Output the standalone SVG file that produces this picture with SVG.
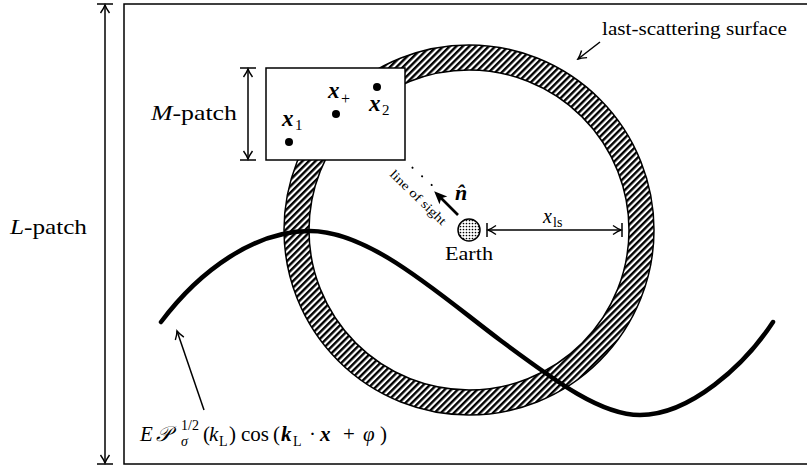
<svg xmlns="http://www.w3.org/2000/svg" width="807" height="470" viewBox="0 0 807 470">
<style>
text{font-family:"Liberation Serif","Times New Roman",serif;fill:#000}
.it{font-style:italic}
.bi{font-style:italic;font-weight:bold}
.up{font-style:normal;font-weight:normal}
.ln{stroke:#000;fill:none;stroke-width:1.5}
.dim{stroke:#000;fill:none;stroke-width:1.5}
</style>
<defs>
<pattern id="hatch" patternUnits="userSpaceOnUse" width="4.6" height="4.6" patternTransform="rotate(45)">
<rect width="4.6" height="4.6" fill="#fff"/>
<rect width="2.4" height="4.6" fill="#000"/>
</pattern>
<pattern id="dots" patternUnits="userSpaceOnUse" width="3" height="3">
<rect width="3" height="3" fill="#fff"/>
<circle cx="1.5" cy="1.5" r="0.85" fill="#000"/>
</pattern>
<marker id="v" viewBox="-10 -6 12 12" refX="0" refY="0" markerWidth="12" markerHeight="12" markerUnits="userSpaceOnUse" orient="auto-start-reverse">
<path d="M-8,-4.5 Q-3,-1 0,0 Q-3,1 -8,4.5" fill="none" stroke="#000" stroke-width="1.4"/>
</marker>
<marker id="solid" viewBox="-15 -7 17 14" refX="-4" refY="0" markerWidth="17" markerHeight="14" markerUnits="userSpaceOnUse" orient="auto">
<path d="M-13,-5.5 L0,0 L-13,5.5 L-10,0 Z" fill="#000"/>
</marker>
</defs>

<g id="L-patch">
<rect x="124" y="4" width="690" height="460" class="ln"/>
</g>

<g id="ring">
<path d="M284,230 a185,185 0 1,0 370,0 a185,185 0 1,0 -370,0 Z M309,230 a160,160 0 1,0 320,0 a160,160 0 1,0 -320,0 Z" fill="url(#hatch)" fill-rule="evenodd" stroke="#000" stroke-width="1.5"/>
</g>

<g id="M-patch">
<rect x="266" y="68" width="139" height="92" fill="#fff" stroke="#000" stroke-width="1.5"/>
<circle cx="289" cy="142" r="4"/>
<circle cx="336" cy="114" r="4"/>
<circle cx="377" cy="87" r="4"/>
<text x="282" y="126" class="bi" font-size="23">x<tspan x="295" y="130" font-size="15" class="up">1</tspan></text>
<text x="328" y="98" class="bi" font-size="23">x<tspan x="341" y="104" font-size="16" class="up">+</tspan></text>
<text x="369" y="111" class="bi" font-size="23">x<tspan x="382" y="115" font-size="15" class="up">2</tspan></text>
</g>

<g id="earth">
<circle cx="469" cy="230" r="11" fill="url(#dots)" stroke="#000" stroke-width="1.5"/>
<text x="445" y="260" font-size="19" textLength="48" lengthAdjust="spacingAndGlyphs">Earth</text>
</g>

<g id="wave">
<path d="M161,322 C200,270 255,231 310,231 C370,231 440,295 500,340 C554,380 600,415 640,415 C690,415 745,365 773,322" fill="none" stroke="#000" stroke-width="4.5" stroke-linecap="round"/>
</g>

<g id="connectors">
<line x1="105" y1="5" x2="105" y2="463" class="dim" marker-start="url(#v)" marker-end="url(#v)"/>
<line x1="97" y1="4" x2="113" y2="4" class="dim"/>
<line x1="97" y1="464" x2="113" y2="464" class="dim"/>
<line x1="248" y1="69" x2="248" y2="159" class="dim" marker-start="url(#v)" marker-end="url(#v)"/>
<line x1="240" y1="68" x2="256" y2="68" class="dim"/>
<line x1="240" y1="160" x2="256" y2="160" class="dim"/>
<line x1="488" y1="230" x2="621" y2="230" class="dim" marker-start="url(#v)" marker-end="url(#v)"/>
<line x1="487" y1="223" x2="487" y2="237" class="dim"/>
<line x1="622" y1="223" x2="622" y2="237" class="dim"/>
<line x1="600" y1="42" x2="578" y2="59" class="dim" marker-end="url(#v)"/>
<line x1="204" y1="410" x2="177" y2="331" class="dim" marker-end="url(#v)"/>
<line x1="458" y1="215" x2="437" y2="194" stroke="#000" stroke-width="2.6" marker-end="url(#solid)"/>
<line x1="431.7" y1="185" x2="404" y2="160" stroke="#000" stroke-width="2" stroke-linecap="round" stroke-dasharray="0.1 12.8"/>
</g>

<g id="labels">
<text x="10" y="234" font-size="21" textLength="77" lengthAdjust="spacingAndGlyphs"><tspan class="it">L</tspan>-patch</text>
<text x="151" y="120" font-size="21" textLength="86" lengthAdjust="spacingAndGlyphs"><tspan class="it">M</tspan>-patch</text>
<text x="602" y="35" font-size="18" textLength="185" lengthAdjust="spacingAndGlyphs">last-scattering surface</text>
<text x="543" y="223" class="it" font-size="20">x<tspan x="553" y="227" font-size="14" class="up">ls</tspan></text>
<text x="455" y="200" class="bi" font-size="22">n̂</text>
<text transform="translate(389,175) rotate(44)" font-size="12.5" fill="#333" textLength="73" lengthAdjust="spacingAndGlyphs">line of sight</text>
<text font-size="21" y="441">
<tspan x="140" class="it">E</tspan><tspan x="156" class="it">𝒫</tspan><tspan x="181" y="430" font-size="14">1/2</tspan><tspan x="181" y="446" font-size="14" class="it">σ</tspan><tspan x="203" y="441">(</tspan><tspan x="209" class="it">k</tspan><tspan x="219" y="446" font-size="14">L</tspan><tspan x="229" y="441">)</tspan><tspan x="241">cos</tspan><tspan x="273">(</tspan><tspan x="281" class="bi">k</tspan><tspan x="293" y="446" font-size="14">L</tspan><tspan x="309" y="441">·</tspan><tspan x="320" class="bi">x</tspan><tspan x="343">+</tspan><tspan x="363" class="it">φ</tspan><tspan x="380">)</tspan>
</text>
</g>
</svg>
